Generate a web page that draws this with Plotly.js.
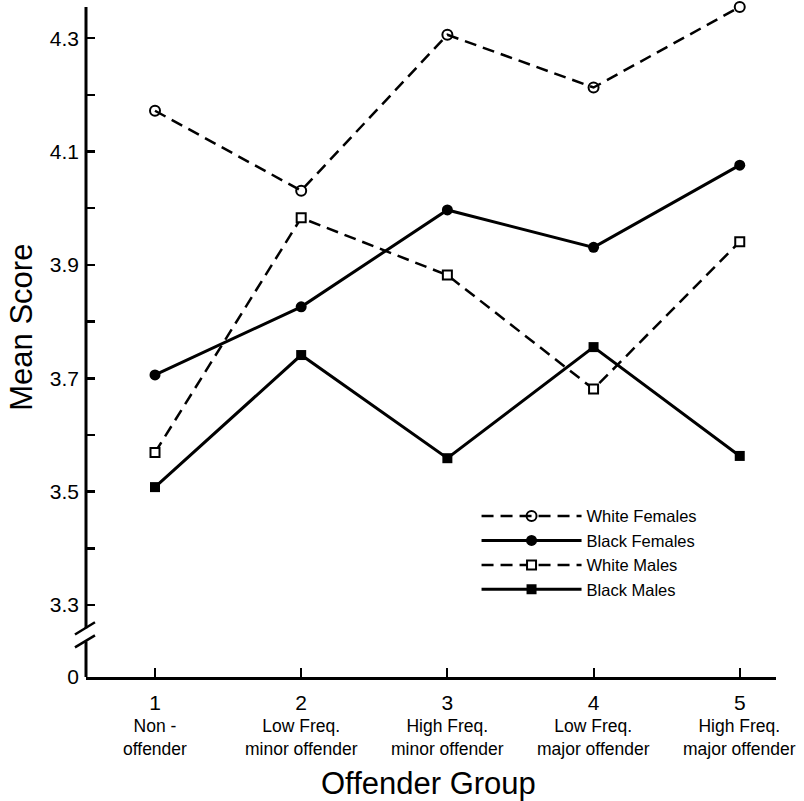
<!DOCTYPE html>
<html>
<head>
<meta charset="utf-8">
<script src="https://cdn.plot.ly/plotly-3.0.1.min.js"></script>
<style>html,body{margin:0;padding:0;background:#fff;}#chart{width:804px;height:801px;}</style>
</head>
<body>
<div id="chart"></div>
<script>
// Data
const groups = [1, 2, 3, 4, 5];
const groupLabels = ["1", "2", "3", "4", "5"];
const groupDesc = ["Non -<br>offender", "Low Freq.<br>minor offender", "High Freq.<br>minor offender", "Low Freq.<br>major offender", "High Freq.<br>major offender"];
const whiteFemales = [4.172, 4.031, 4.306, 4.213, 4.355];
const blackFemales = [3.706, 3.826, 3.997, 3.931, 4.076];
const whiteMales = [3.569, 3.983, 3.882, 3.681, 3.941];
const blackMales = [3.508, 3.741, 3.559, 3.755, 3.563];
const yTickVals = [3.173, 3.3, 3.4, 3.5, 3.6, 3.7, 3.8, 3.9, 4.0, 4.1, 4.2, 4.3];
const yTickText = ["0", "3.3", "", "3.5", "", "3.7", "", "3.9", "", "4.1", "", "4.3"];

const FONT = "Liberation Sans, Arial, Helvetica, sans-serif";
const dashStyle = "12px,7px";

const traces = [
  {name: "White Females", x: groups, y: whiteFemales, mode: "lines+markers",
   line: {color: "#000", width: 2.5, dash: dashStyle},
   marker: {symbol: "circle-open", size: 10, color: "#000", line: {width: 2, color: "#000"}}, cliponaxis: false},
  {name: "Black Females", x: groups, y: blackFemales, mode: "lines+markers",
   line: {color: "#000", width: 3},
   marker: {symbol: "circle", size: 11, color: "#000"}, cliponaxis: false},
  {name: "White Males", x: groups, y: whiteMales, mode: "lines+markers",
   line: {color: "#000", width: 2.5, dash: dashStyle},
   marker: {symbol: "square", size: 9, color: "#fff", line: {width: 2, color: "#000"}}, cliponaxis: false},
  {name: "Black Males", x: groups, y: blackMales, mode: "lines+markers",
   line: {color: "#000", width: 3},
   marker: {symbol: "square", size: 10, color: "#000"}, cliponaxis: false}
];

const annotations = groups.map((g, i) => ({
  x: g, xref: "x", y: -0.0903, yref: "paper", text: groupDesc[i], showarrow: false,
  xanchor: "center", yanchor: "middle", font: {family: FONT, size: 17.5, color: "#000"}
}));
annotations.push({x: 0.4957, xref: "paper", y: -0.159, yref: "paper", text: "Offender Group",
  showarrow: false, xanchor: "center", yanchor: "middle", font: {family: FONT, size: 31, color: "#000"}});
annotations.push({x: -0.0935, xref: "paper", y: 0.522, yref: "paper", text: "Mean Score", textangle: -90,
  showarrow: false, xanchor: "center", yanchor: "middle", font: {family: FONT, size: 31, color: "#000"}});

const shapes = [
  {type: "line", xref: "paper", yref: "y", x0: 0, x1: 0, y0: 3.173, y1: 3.2358, line: {color: "#000", width: 3}},
  {type: "line", xref: "paper", yref: "y", x0: 0, x1: 0, y0: 3.2589, y1: 4.355, line: {color: "#000", width: 3}},
  {type: "line", xref: "paper", yref: "y", x0: -0.016, x1: 0.013, y0: 3.248, y1: 3.2695, line: {color: "#000", width: 2.5}},
  {type: "line", xref: "paper", yref: "y", x0: -0.016, x1: 0.013, y0: 3.2253, y1: 3.2465, line: {color: "#000", width: 2.5}}
];

const layout = {
  width: 804, height: 801,
  margin: {l: 86, r: 28, t: 7, b: 124},
  paper_bgcolor: "#fff", plot_bgcolor: "#fff",
  font: {family: FONT, color: "#000"},
  showlegend: true,
  legend: {x: 0.566, y: 0.266, xanchor: "left", yanchor: "top", bgcolor: "rgba(0,0,0,0)",
           font: {family: FONT, size: 16.5, color: "#000"}, itemwidth: 100, tracegroupgap: 0},
  xaxis: {range: [0.528, 5.248], showgrid: false, zeroline: false, showline: true, linecolor: "#000", linewidth: 3,
          tickmode: "array", tickvals: groups, ticktext: groupLabels, ticks: "inside", ticklen: 9, tickwidth: 2, tickcolor: "#000",
          ticklabelstandoff: 5,
          tickfont: {family: FONT, size: 21, color: "#000"}, fixedrange: true},
  yaxis: {range: [3.173, 4.355], showgrid: false, zeroline: false, showline: false,
          tickmode: "array", tickvals: yTickVals, ticktext: yTickText, ticks: "inside", ticklen: 9, tickwidth: 2.5, tickcolor: "#000",
          ticklabelstandoff: 6,
          tickfont: {family: FONT, size: 21, color: "#000"}, fixedrange: true},
  annotations: annotations,
  shapes: shapes
};

Plotly.newPlot("chart", traces, layout, {displayModeBar: false, staticPlot: true});
</script>
</body>
</html>
